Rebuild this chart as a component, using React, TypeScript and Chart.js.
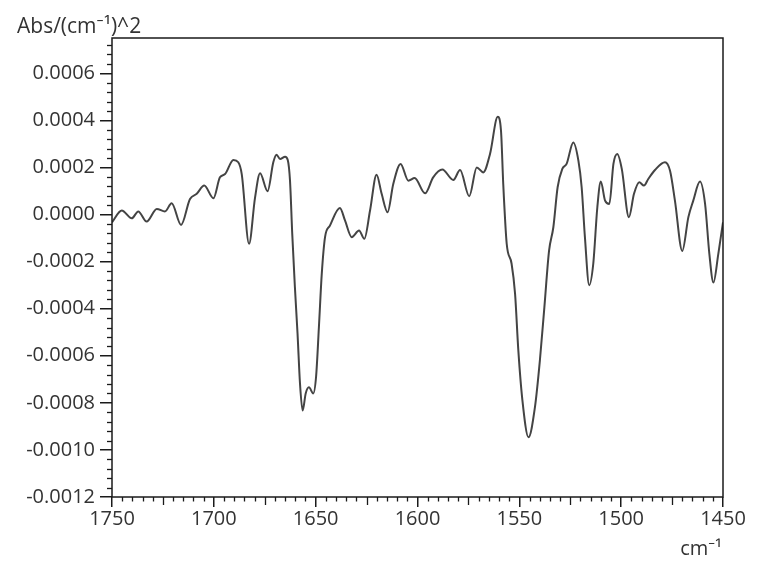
import React, { useEffect, useRef } from "react";
import { Chart, registerables } from "chart.js";

Chart.register(...registerables);

// Wavenumbers (cm^-1) and second-derivative absorbance values
const wavenumbers: number[] = [
  1750, 1745.2, 1740.3, 1737.1, 1733, 1728, 1724, 1720.7, 1716.1, 1711.7,
  1708.4, 1704.7, 1700.2, 1697, 1694.5, 1690.4, 1688, 1686.3, 1682.7, 1679.8,
  1677.3, 1673.6, 1670.8, 1669.2, 1667.5, 1665, 1663.7, 1662.6, 1661.5, 1660.2,
  1658.9, 1657.7, 1656.4, 1654.9, 1653.3, 1651.2, 1649.8, 1648.4, 1647, 1645.4,
  1643, 1638.1, 1635.6, 1632.3, 1628.7, 1626.1, 1623.3, 1620.1, 1617.6, 1614.7,
  1611.9, 1608.3, 1604.5, 1601.4, 1596.3, 1592.3, 1587.8, 1582.4, 1579.1, 1574.6,
  1570.9, 1567.7, 1564.4, 1560.6, 1559, 1557.9, 1556.2, 1553.8, 1552.1, 1550.5,
  1548.5, 1545.5, 1542.3, 1539.9, 1537.7, 1535.4, 1533.3, 1531.2, 1528.9, 1526.8,
  1523.5, 1521, 1519.4, 1517.8, 1515.7, 1513.7, 1511.7, 1510, 1507.9, 1505.8,
  1503.8, 1501.9, 1499.7, 1496.2, 1493.7, 1491.1, 1488.8, 1486.7, 1483.4, 1478.5,
  1476, 1473.6, 1470, 1467, 1464.6, 1461.3, 1458.8, 1456.7, 1454.7, 1452.3,
  1450,
];

const absorbance: number[] = [
  -0.000033, 0.000017, -0.000016, 0.000013, -0.00003, 0.000024, 0.000013, 0.000048, -0.000044, 0.000066,
  0.000088, 0.000123, 0.000069, 0.000158, 0.000172, 0.000232, 0.000222, 0.000172, -0.000124, 0.00007,
  0.000175, 0.000099, 0.000222, 0.000254, 0.000236, 0.000246, 0.000232, 0.000144, -0.000082, -0.000308,
  -0.000506, -0.000717, -0.000833, -0.00076, -0.000734, -0.00076, -0.000689, -0.000477, -0.000251, -0.000096,
  -0.000047, 0.000028, -0.000025, -0.000096, -0.000068, -0.000103, 0.000017, 0.000169, 0.000088, 0.00001,
  0.00013, 0.000215, 0.000144, 0.000155, 0.00009, 0.000158, 0.000191, 0.000147, 0.000189, 0.000078,
  0.0002, 0.000179, 0.000257, 0.000415, 0.000356, 0.00013, -0.000124, -0.000209, -0.000336, -0.000576,
  -0.000788, -0.000946, -0.000816, -0.000619, -0.000393, -0.000153, -0.000054, 0.000116, 0.000194, 0.000215,
  0.000306, 0.000229, 0.000116, -0.000096, -0.0003, -0.000209, 0.000031, 0.00014, 0.000059, 0.000045,
  0.000215, 0.000257, 0.000194, -0.000011, 0.000088, 0.000137, 0.000123, 0.000151, 0.000189, 0.000222,
  0.000186, 0.000059, -0.000155, -0.000011, 0.000059, 0.00014, 0.000045, -0.000167, -0.000289, -0.000167,
  -0.000033,
];

const xTickValues: number[] = [1750, 1700, 1650, 1600, 1550, 1500, 1450];
const yTickValues: number[] = [
  -0.0012, -0.001, -0.0008, -0.0006, -0.0004, -0.0002, 0, 0.0002, 0.0004, 0.0006,
];

const yAxisTitle = "Abs/(cm\u207B\u00B9)^2";
const xAxisTitle = "cm\u207B\u00B9";

const FONT = "'Open Sans', 'Noto Sans', sans-serif";
const INK = "#1a1a1a";

const framePlugin = {
  id: "framePlugin",
  afterDraw(chart: any) {
    const { ctx, chartArea } = chart;
    const xs = chart.scales.x;
    const ys = chart.scales.y;
    ctx.save();
    ctx.strokeStyle = INK;
    ctx.lineWidth = 1.5;
    ctx.strokeRect(chartArea.left, chartArea.top, chartArea.right - chartArea.left, chartArea.bottom - chartArea.top);
    // minor ticks on x
    ctx.lineWidth = 1.3;
    for (let k = 0; k <= 60; k++) {
      const v = 1450 + k * 5;
      if (v % 50 === 0) continue;
      const len = v % 25 === 0 ? 8 : 4.5;
      const px = Math.round(xs.getPixelForValue(v)) + 0.5;
      ctx.beginPath();
      ctx.moveTo(px, chartArea.bottom);
      ctx.lineTo(px, chartArea.bottom + len);
      ctx.stroke();
    }
    // minor ticks on y
    for (let k = 0; k <= 49; k++) {
      if (k % 5 === 0) continue;
      const v = -0.0012 + k * 0.00004;
      const py = Math.round(ys.getPixelForValue(v)) + 0.5;
      if (py < chartArea.top) continue;
      ctx.beginPath();
      ctx.moveTo(chartArea.left, py);
      ctx.lineTo(chartArea.left - 5, py);
      ctx.stroke();
    }
    // axis titles
    ctx.fillStyle = "#333";
    ctx.font = `21px ${FONT}`;
    ctx.textBaseline = "alphabetic";
    ctx.textAlign = "left";
    ctx.fillText(yAxisTitle, 17, 33);
    ctx.font = `20px ${FONT}`;
    ctx.textAlign = "right";
    ctx.fillText(xAxisTitle, 722, 555);
    ctx.restore();
  },
};

export default function App() {
  const canvasRef = useRef<HTMLCanvasElement | null>(null);

  useEffect(() => {
    if (!canvasRef.current) return;
    const points = wavenumbers.map((w, i) => ({ x: w, y: absorbance[i] }));
    const chart = new Chart(canvasRef.current, {
      type: "scatter",
      data: {
        datasets: [
          {
            data: points,
            showLine: true,
            borderColor: "#444444",
            borderWidth: 2,
            pointRadius: 0,
            cubicInterpolationMode: "monotone",
            fill: false,
          } as any,
        ],
      },
      options: {
        responsive: false,
        animation: false,
        layout: { padding: { left: 0, top: 38, right: 49, bottom: 0 } },
        plugins: { legend: { display: false }, tooltip: { enabled: false }, title: { display: false } },
        scales: {
          x: {
            type: "linear",
            reverse: true,
            min: 1450,
            max: 1750,
            afterBuildTicks: (scale: any) => {
              scale.ticks = xTickValues.map((v) => ({ value: v }));
            },
            afterFit: (scale: any) => {
              scale.height = 75;
            },
            grid: { display: true, drawOnChartArea: false, drawTicks: true, tickLength: 10, color: INK, lineWidth: 1.5 },
            border: { display: false },
            ticks: {
              color: "#333",
              font: { family: FONT, size: 20 },
              padding: 0,
              maxRotation: 0,
              autoSkip: false,
              callback: (v: any) => String(v),
            },
          },
          y: {
            type: "linear",
            min: -0.0012,
            max: 0.00075,
            afterBuildTicks: (scale: any) => {
              scale.ticks = yTickValues.map((v) => ({ value: v }));
            },
            afterFit: (scale: any) => {
              scale.width = 112;
            },
            grid: { display: true, drawOnChartArea: false, drawTicks: true, tickLength: 12, color: INK, lineWidth: 1.5 },
            border: { display: false },
            ticks: {
              color: "#333",
              font: { family: FONT, size: 20 },
              padding: 5,
              autoSkip: false,
              callback: (v: any) => Number(v).toFixed(4),
            },
          },
        },
      },
      plugins: [framePlugin],
    });
    return () => chart.destroy();
  }, []);

  return (
    <div style={{ position: "fixed", left: 0, top: 0, width: 772, height: 572, background: "#fff" }}>
      <canvas ref={canvasRef} width={772} height={572} />
    </div>
  );
}
